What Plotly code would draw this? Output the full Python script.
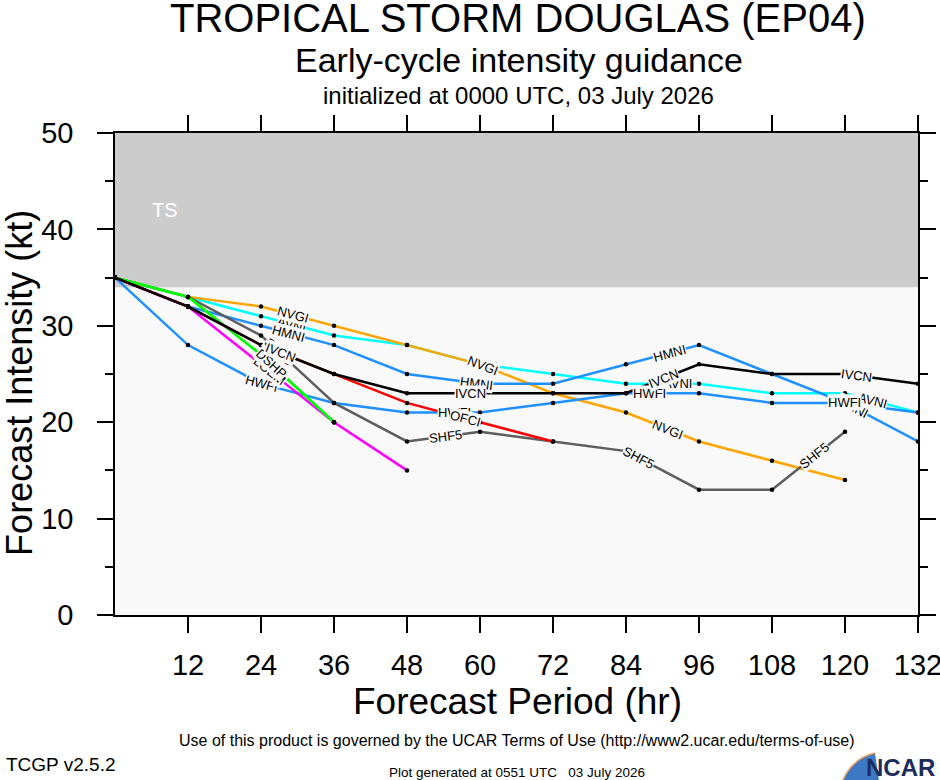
import math
import plotly.graph_objects as go

# forecast hours and intensity (kt) per model
HOURS = [0, 12, 24, 36, 48, 60, 72, 84, 96, 108, 120, 132]

AVNI = [35, 33, 31, 29, 28, 26, 25, 24, 24, 23, 23, 21]
NVGI = [35, 33, 32, 30, 28, 26, 23, 21, 18, 16, 14]
HMNI = [35, 32, 30, 28, 25, 24, 24, 26, 28, 25, 22, 18]
HWFI = [35, 28, 24, 22, 21, 21, 22, 23, 23, 22, 22, 21]
SHF5 = [35, 33, 29, 22, 18, 19, 18, 17, 13, 13, 19]
LGEM = [35, 32, 26, 20, 15]
SHIP = [35, 33, 27, 20]
DSHP = [35, 33, 27, 20]
OFCI = [35, 32, 28, 25, 22, 20, 18]
IVCN = [35, 32, 28, 25, 23, 23, 23, 23, 26, 25, 25, 24]

MODELS = ["AVNI", "NVGI", "HMNI", "HWFI", "SHF5", "LGEM", "SHIP", "DSHP", "OFCI", "IVCN"]
SERIES = [AVNI, NVGI, HMNI, HWFI, SHF5, LGEM, SHIP, DSHP, OFCI, IVCN]
COLORS = ["#00FFFF", "#FFA500", "#1E90FF", "#1E90FF", "#5E5E5E",
          "#FF00FF", "#00FF00", "#00FF00", "#FF0000", "#000000"]

XTICKS = [12, 24, 36, 48, 60, 72, 84, 96, 108, 120, 132]
TS_LOW = 34  # tropical storm threshold

# the page snapshot comes back squeezed a little horizontally
# (screen_x ~= K * fig_x + OFF), so the figure is laid out a bit wider
W, H = 954, 780
K, OFF = 0.985, 1.4
X0, X1, Y0, Y1 = 115, 917, 133, 615  # plot box on screen
L = (X0 - OFF) / K
R = W - (X1 - OFF) / K
T, B = Y0, H - Y1
SX = (X1 - X0) / 132
SY = (Y1 - Y0) / 50
FONT = "Liberation Sans, Arial, sans-serif"


def px(x):
    return (x - X0) / (X1 - X0)


def py(y):
    return (Y1 - y) / (Y1 - Y0)


def label_spots(hours, vals, first=182, step=196):
    # NCL-style line labels spaced along the curve in screen space
    spots = []
    target = first
    acc = 0
    for i in range(len(vals) - 1):
        dx = (hours[i + 1] - hours[i]) * SX
        dy = -(vals[i + 1] - vals[i]) * SY
        seg = math.hypot(dx, dy)
        while target <= acc + seg:
            t = (target - acc) / seg
            x = hours[i] + t * (hours[i + 1] - hours[i])
            y = vals[i] + t * (vals[i + 1] - vals[i])
            spots.append((x, y, math.degrees(math.atan2(dy, dx))))
            target += step
        acc += seg
    return spots


fig = go.Figure()

for name, vals, col in zip(MODELS, SERIES, COLORS):
    fig.add_trace(go.Scatter(x=HOURS[:len(vals)], y=vals, mode="lines",
                             line=dict(color=col, width=2.5), name=name))

for name, vals in zip(MODELS, SERIES):
    fig.add_trace(go.Scatter(x=HOURS[:len(vals)], y=vals, mode="markers",
                             marker=dict(color="black", size=4.5), name=name))

annotations = []
for name, vals in zip(MODELS, SERIES):
    for x, y, ang in label_spots(HOURS, vals):
        annotations.append(dict(x=x, y=y, xref="x", yref="y", text=name, showarrow=False,
                                xanchor="center", yanchor="middle", textangle=ang,
                                font=dict(size=13, color="black", family=FONT),
                                bgcolor="#F9F9F9", borderpad=0))

annotations.append(dict(x=8.2, y=42, xref="x", yref="y", text="TS", showarrow=False,
                        xanchor="center", yanchor="middle",
                        font=dict(size=20, color="white", family=FONT)))

texts = [
    ("TROPICAL STORM DOUGLAS (EP04)", 517, 18, 40, "center"),
    ("Early-cycle intensity guidance", 518, 60, 34, "center"),
    ("initialized at 0000 UTC, 03 July 2026", 518, 95, 24, "center"),
    ("Forecast Period (hr)", 517, 701, 37, "center"),
    ("Use of this product is governed by the UCAR Terms of Use (http://www2.ucar.edu/terms-of-use)",
     516, 740, 16, "center"),
    ("TCGP v2.5.2", 4, 764, 19, "left"),
    ("Plot generated at 0551 UTC   03 July 2026", 516, 772, 13.5, "center"),
]
for txt, x, y, size, anchor in texts:
    annotations.append(dict(x=px(x), y=py(y), xref="paper", yref="paper", text=txt,
                            showarrow=False, xanchor=anchor, yanchor="middle",
                            font=dict(size=size, color="black", family=FONT)))

annotations.append(dict(x=px(19), y=py(383), xref="paper", yref="paper",
                        text="Forecast Intensity (kt)", showarrow=False, textangle=-90,
                        xanchor="center", yanchor="middle",
                        font=dict(size=36, color="black", family=FONT)))
annotations.append(dict(x=px(936), y=py(767), xref="paper", yref="paper", text="<b>NCAR</b>",
                        showarrow=False, xanchor="right", yanchor="middle",
                        font=dict(size=24, color="#1B2D5C", family=FONT)))

shapes = [
    dict(type="rect", xref="x", yref="y", x0=0, x1=132, y0=TS_LOW, y1=50,
         fillcolor="#CCCCCC", line=dict(width=0), layer="below"),
    # NCAR swoosh
    dict(type="path", xref="paper", yref="paper",
         path=f"M {px(842)},{py(780)} Q {px(852)},{py(758)} {px(874)},{py(753)} "
              f"L {px(878)},{py(780)} Z",
         fillcolor="#3C78C3", line=dict(width=0)),
    dict(type="path", xref="paper", yref="paper",
         path=f"M {px(842)},{py(780)} Q {px(852)},{py(758)} {px(874)},{py(753)}",
         line=dict(color="#F0A060", width=1.5)),
]

fig.update_layout(
    width=W, height=H, autosize=False,
    margin=dict(l=L, r=R, t=T, b=B),
    paper_bgcolor="white", plot_bgcolor="#F9F9F9",
    showlegend=False, hovermode=False,
    annotations=annotations, shapes=shapes,
    font=dict(family=FONT, color="black"),
)
fig.update_xaxes(range=[0, 132], tickvals=XTICKS, ticks="outside", ticklen=16, tickwidth=1.5,
                 tickcolor="black", showline=True, linecolor="black", linewidth=1.5,
                 mirror="allticks", showgrid=False, zeroline=False,
                 tickfont=dict(size=29), ticklabelstandoff=7)
fig.update_yaxes(range=[0, 50], tickvals=[0, 10, 20, 30, 40, 50], ticks="outside", ticklen=16,
                 tickwidth=1.5, tickcolor="black", showline=True, linecolor="black",
                 linewidth=1.5, mirror="allticks", showgrid=False, zeroline=False,
                 tickfont=dict(size=29), ticklabelstandoff=18,
                 minor=dict(dtick=5, tick0=0, ticks="outside", ticklen=8, tickwidth=1.5,
                            tickcolor="black"))

fig.write_html("out.html", config={"responsive": False, "displayModeBar": False},
               post_script="document.body.style.margin='0px';"
                           "document.body.style.overflow='hidden';")
